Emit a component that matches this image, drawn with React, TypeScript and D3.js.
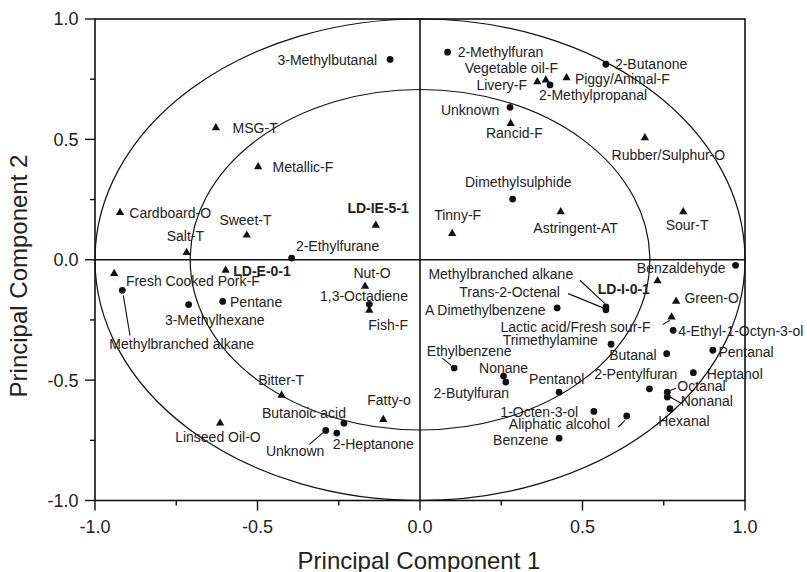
import React from "react";
import * as d3 from "d3";

// Loadings on the first two principal components: [label, PC1, PC2]
const sensoryAttributes: [string, number, number][] = [
  ["MSG-T", -0.628, 0.548],
  ["Metallic-F", -0.498, 0.386],
  ["Cardboard-O", -0.923, 0.196],
  ["Sweet-T", -0.533, 0.102],
  ["Salt-T", -0.718, 0.03],
  ["Fresh Cooked Pork-F", -0.941, -0.057],
  ["Nut-O", -0.169, -0.11],
  ["Fish-F", -0.156, -0.21],
  ["Tinny-F", 0.099, 0.109],
  ["Astringent-AT", 0.433, 0.199],
  ["Sour-T", 0.81, 0.199],
  ["Green-O", 0.788, -0.173],
  ["Lactic acid/Fresh sour-F", 0.774, -0.238],
  ["Rubber/Sulphur-O", 0.692, 0.506],
  ["Rancid-F", 0.279, 0.566],
  ["Livery-F", 0.361, 0.739],
  ["Vegetable oil-F", 0.387, 0.746],
  ["Piggy/Animal-F", 0.451, 0.756],
  ["Bitter-T", -0.426, -0.563],
  ["Fatty-o", -0.113, -0.664],
  ["Linseed Oil-O", -0.615, -0.679],
];

const samples: [string, number, number][] = [
  ["LD-IE-5-1", -0.136, 0.143],
  ["LD-E-0-1", -0.598, -0.044],
  ["LD-I-0-1", 0.731, -0.088],
];

const volatiles: [string, number, number][] = [
  ["3-Methylbutanal", -0.092, 0.832],
  ["2-Methylfuran", 0.085, 0.862],
  ["2-Butanone", 0.572, 0.812],
  ["2-Methylpropanal", 0.4, 0.726],
  ["Unknown", 0.277, 0.633],
  ["Dimethylsulphide", 0.285, 0.252],
  ["2-Ethylfurane", -0.395, 0.007],
  ["Methylbranched alkane", -0.916, -0.127],
  ["3-Methylhexane", -0.712, -0.186],
  ["Pentane", -0.607, -0.173],
  ["1,3-Octadiene", -0.156, -0.185],
  ["Benzaldehyde", 0.971, -0.023],
  ["Methylbranched alkane", 0.572, -0.196],
  ["Trans-2-Octenal", 0.572, -0.208],
  ["A Dimethylbenzene", 0.422, -0.2],
  ["4-Ethyl-1-Octyn-3-ol", 0.779, -0.293],
  ["Trimethylamine", 0.588, -0.351],
  ["Butanal", 0.759, -0.39],
  ["Pentanal", 0.901, -0.376],
  ["Heptanol", 0.841, -0.469],
  ["2-Pentylfuran", 0.706, -0.536],
  ["Octanal", 0.761, -0.55],
  ["Nonanal", 0.761, -0.57],
  ["Hexanal", 0.769, -0.619],
  ["Ethylbenzene", 0.105, -0.45],
  ["Nonane", 0.257, -0.483],
  ["2-Butylfuran", 0.264, -0.508],
  ["Pentanol", 0.428, -0.55],
  ["1-Octen-3-ol", 0.535, -0.63],
  ["Aliphatic alcohol", 0.636, -0.649],
  ["Benzene", 0.428, -0.741],
  ["Butanoic acid", -0.234, -0.679],
  ["Unknown", -0.29, -0.709],
  ["2-Heptanone", -0.256, -0.72],
];

const majorTicks = [-1.0, -0.5, 0.0, 0.5, 1.0];
const minorTicks = [-0.75, -0.25, 0.25, 0.75];
const circleRadii = [1, Math.SQRT1_2];
const xTitle = "Principal Component 1";
const yTitle = "Principal Component 2";

// Label placement: [anchor, dx, dy, optional leader line (x1, y1, x2, y2)], pixels from the marker
type Place = [string, number, number, number[]?];

const sensoryPlace: Place[] = [
  ["start", 16.7, 5.6],
  ["start", 14.4, 5.6],
  ["start", 9.3, 5.4],
  ["start", -27.4, -10],
  ["start", -20, -11.6],
  ["start", 11.7, 12.7],
  ["start", -11.7, -8.7],
  ["start", -1, 20],
  ["start", -18, -14],
  ["start", -27.4, 21.6],
  ["start", -17.6, 18.3],
  ["start", 8.3, 1.7],
  ["end", -21, 15, [-9, 7.6, -1.7, 3.3]],
  ["start", -33.3, 21.6],
  ["start", -24.7, 14.4],
  ["end", -10.3, 8.3],
  ["end", 12.3, -6.7],
  ["start", 8.3, 6.3],
  ["start", -23.4, -10],
  ["start", -16, -14.3],
  ["start", -45, 18.3],
];

const samplePlace: Place[] = [
  ["start", -28.4, -12.3],
  ["start", 7.6, 6],
  ["end", -7.7, 13.3],
];

const volatilePlace: Place[] = [
  ["end", -13, 5.7],
  ["start", 10, 4.7],
  ["start", 9, 5],
  ["start", -11, 15],
  ["end", -10.7, 7.7],
  ["start", -47.7, -12.3],
  ["start", 4.3, -6.7],
  ["start", -13, 58.3, [1, 5, 7.7, 45]],
  ["start", -23.7, 20.7],
  ["start", 7.3, 5.7],
  ["start", -49.3, -3],
  ["end", -10, 7.3],
  ["end", -32.7, -28.4, [-26, -26.7, -1, -3.4]],
  ["end", -46, -12.8, [-37.7, -16.2, -1, -1.2]],
  ["end", -11.6, 6.6],
  ["start", 5, 5.7],
  ["end", -13.3, 1],
  ["end", -10, 6],
  ["start", 5.6, 6.7],
  ["start", 13.4, 6],
  ["start", -55.3, -10],
  ["start", 10, -0.7, [2.7, -1.7, 8.7, -4]],
  ["start", 13.4, 9.3, [2.7, 0, 13.4, 6]],
  ["start", -11.7, 17.7],
  ["start", -27.3, -11.7, [-11.7, -10, -3, -2.7]],
  ["start", -24.5, -3.4],
  ["end", 3.2, 15.6],
  ["start", -30, -8.4],
  ["end", -15.7, 5.7],
  ["end", -16.7, 12.6, [-8.4, 11, -1.7, 4.3]],
  ["end", -10.7, 6.6],
  ["end", 2, -5],
  ["end", -1.4, 26, [-16.4, 14, -2.4, 2]],
  ["start", -4, 15.6],
];

const W = 807;
const H = 572;
const FONT = "'Liberation Sans', Arial, Helvetica, sans-serif";

const x = d3.scaleLinear().domain([-1, 1]).range([95, 745]);
const y = d3.scaleLinear().domain([-1, 1]).range([500.5, 19]);

const trianglePath = d3.symbol().type(d3.symbolTriangle).size(30)() as string;

function Labels({
  data,
  place,
  bold,
}: {
  data: [string, number, number][];
  place: Place[];
  bold?: boolean;
}) {
  return (
    <g>
      {data.map(([name, px, py], i) => {
        const [anchor, dx, dy, leader] = place[i];
        const cx = x(px);
        const cy = y(py);
        return (
          <g key={i}>
            {leader && (
              <line
                x1={cx + leader[0]}
                y1={cy + leader[1]}
                x2={cx + leader[2]}
                y2={cy + leader[3]}
                stroke="#111"
                strokeWidth={1.1}
              />
            )}
            <text
              x={cx + dx}
              y={cy + dy}
              textAnchor={anchor as any}
              fontSize={14}
              fontWeight={bold ? "bold" : "normal"}
              fill="#222"
            >
              {name}
            </text>
          </g>
        );
      })}
    </g>
  );
}

export default function App() {
  const x0 = x(0);
  const y0 = y(0);
  return (
    <svg
      width={W}
      height={H}
      style={{ position: "absolute", left: 0, top: 0, background: "#fff" }}
      fontFamily={FONT}
    >
      <rect width={W} height={H} fill="#fff" />

      {/* correlation circles */}
      {circleRadii.map((r, i) => (
        <ellipse
          key={i}
          cx={x0}
          cy={y0}
          rx={x(r) - x0}
          ry={y0 - y(r)}
          fill="none"
          stroke="#111"
          strokeWidth={1.2}
        />
      ))}

      {/* zero lines */}
      <line x1={x(-1)} x2={x(1)} y1={y0} y2={y0} stroke="#111" strokeWidth={1.6} />
      <line x1={x0} x2={x0} y1={y(1)} y2={y(-1)} stroke="#111" strokeWidth={1.6} />

      {/* frame */}
      <rect
        x={x(-1)}
        y={y(1)}
        width={x(1) - x(-1)}
        height={y(-1) - y(1)}
        fill="none"
        stroke="#111"
        strokeWidth={1.6}
      />

      {/* ticks */}
      {majorTicks.map((t) => (
        <g key={"M" + t}>
          <line x1={x(-1) - 10} x2={x(-1)} y1={y(t)} y2={y(t)} stroke="#111" strokeWidth={1.4} />
          <line x1={x(t)} x2={x(t)} y1={y(-1)} y2={y(-1) + 10} stroke="#111" strokeWidth={1.4} />
          <text x={78.5} y={y(t) + 6.4} textAnchor="end" fontSize={18} fill="#222">
            {t.toFixed(1).replace("−", "-")}
          </text>
          <text x={x(t)} y={533} textAnchor="middle" fontSize={18} fill="#222">
            {t.toFixed(1)}
          </text>
        </g>
      ))}
      {minorTicks.map((t) => (
        <g key={"m" + t}>
          <line x1={x(-1) - 5} x2={x(-1)} y1={y(t)} y2={y(t)} stroke="#111" strokeWidth={1.4} />
          <line x1={x(t)} x2={x(t)} y1={y(-1)} y2={y(-1) + 5} stroke="#111" strokeWidth={1.4} />
        </g>
      ))}

      {/* axis titles */}
      <text x={419} y={569} textAnchor="middle" fontSize={24} fill="#222">
        {xTitle}
      </text>
      <text
        transform={`translate(27,276) rotate(-90)`}
        textAnchor="middle"
        fontSize={24}
        fill="#222"
      >
        {yTitle}
      </text>

      {/* markers */}
      {[...sensoryAttributes, ...samples].map(([name, px, py], i) => (
        <path
          key={"t" + i}
          d={trianglePath}
          transform={`translate(${x(px)},${y(py)})`}
          fill="#111"
        />
      ))}
      {volatiles.map(([name, px, py], i) => (
        <circle key={"c" + i} cx={x(px)} cy={y(py)} r={3.4} fill="#111" />
      ))}

      {/* labels */}
      <Labels data={sensoryAttributes} place={sensoryPlace} />
      <Labels data={samples} place={samplePlace} bold />
      <Labels data={volatiles} place={volatilePlace} />
    </svg>
  );
}
